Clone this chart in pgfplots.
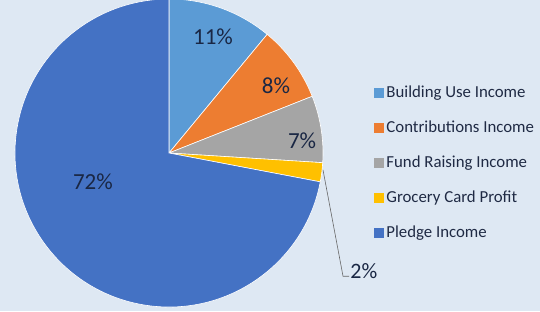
\documentclass[border=0pt]{standalone}
\usepackage{pgfplots}
\pgfplotsset{compat=1.18}
\usepackage{pgfplotstable}
\usepackage{fontspec}
\setmainfont{Carlito}
\definecolor{bgc}{HTML}{DEE8F3}
\definecolor{cA}{HTML}{5B9BD5}
\definecolor{cB}{HTML}{ED7D31}
\definecolor{cC}{HTML}{A5A5A5}
\definecolor{cD}{HTML}{FFC000}
\definecolor{cE}{HTML}{4472C4}
\definecolor{lbl}{HTML}{1A2744}
\definecolor{legtxt}{HTML}{1F2A44}

\pgfplotstableread{
value
11
8
7
2
72
}\piedata

\begin{document}
\begin{tikzpicture}[x=1pt,y=1pt]
\fill[bgc] (0,0) rectangle (540,311);
\useasboundingbox (0,0) rectangle (540,311);
% cumulative angles (clockwise from 12 o'clock)
\def\cum{0}
\foreach \k/\n in {0/A,1/B,2/C,3/D,4/E}{
  \pgfplotstablegetelem{\k}{value}\of\piedata
  \pgfmathsetmacro\s{90-3.6*\cum}
  \pgfmathsetmacro\e{90-3.6*(\cum+\pgfplotsretval)}
  \pgfmathsetmacro\xx{cos(\s)}
  \pgfmathsetmacro\yy{sin(\s)}
  \expandafter\xdef\csname s\n\endcsname{\s}
  \expandafter\xdef\csname e\n\endcsname{\e}
  \expandafter\xdef\csname x\n\endcsname{\xx}
  \expandafter\xdef\csname y\n\endcsname{\yy}
  \pgfmathsetmacro\c{\cum+\pgfplotsretval}
  \xdef\cum{\c}
}
\begin{axis}[
  at={(169pt,158pt)}, anchor=origin,
  x=154pt, y=154pt,
  xmin=-1, xmax=1, ymin=-1, ymax=1,
  hide axis, clip=false,
  legend style={draw=none, fill=none, at={(axis cs:1.31,-0.59)}, anchor=south west,
    font=\fontsize{16.8}{20}\selectfont, text=legtxt, row sep=18pt,
    nodes={inner sep=1pt, text height=11.5pt, text depth=3.5pt},
    /tikz/every odd column/.append style={column sep=1pt}},
  legend cell align=left,
  legend image code/.code={\fill[#1, draw=none] (0pt,-5pt) rectangle (10.5pt,5.5pt);},
]
\fill[cA, draw=white, line width=0.6pt] (axis cs:0,0) -- (axis cs:\xA,\yA) arc[start angle=\sA, end angle=\eA, radius=154pt] -- cycle;
\fill[cB, draw=white, line width=0.6pt] (axis cs:0,0) -- (axis cs:\xB,\yB) arc[start angle=\sB, end angle=\eB, radius=154pt] -- cycle;
\fill[cC, draw=white, line width=0.6pt] (axis cs:0,0) -- (axis cs:\xC,\yC) arc[start angle=\sC, end angle=\eC, radius=154pt] -- cycle;
\fill[cD, draw=white, line width=0.6pt] (axis cs:0,0) -- (axis cs:\xD,\yD) arc[start angle=\sD, end angle=\eD, radius=154pt] -- cycle;
\fill[cE, draw=white, line width=0.6pt] (axis cs:0,0) -- (axis cs:\xE,\yE) arc[start angle=\sE, end angle=\eE, radius=154pt] -- cycle;
\addlegendimage{fill=cA}\addlegendentry{Building Use Income}
\addlegendimage{fill=cB}\addlegendentry{Contributions Income}
\addlegendimage{fill=cC}\addlegendentry{Fund Raising Income}
\addlegendimage{fill=cD}\addlegendentry{Grocery Card Profit}
\addlegendimage{fill=cE}\addlegendentry{Pledge Income}
\begin{scope}[every node/.style={text=lbl, font=\fontsize{23}{26}\selectfont}]
\node at (axis cs:0.286,0.753) {11\%};
\node at (axis cs:0.695,0.435) {8\%};
\node at (axis cs:0.864,0.078) {7\%};
\node at (axis cs:-0.494,-0.188) {72\%};
\node[anchor=west, font=\fontsize{22}{25}\selectfont, inner sep=1pt] at (axis cs:1.17,-0.765) {2\%};
\end{scope}
\draw[gray!80!black, line width=0.6pt] (axis cs:1.0,-0.11) -- (axis cs:1.13,-0.80) -- (axis cs:1.17,-0.80);
\end{axis}
\end{tikzpicture}
\end{document}
